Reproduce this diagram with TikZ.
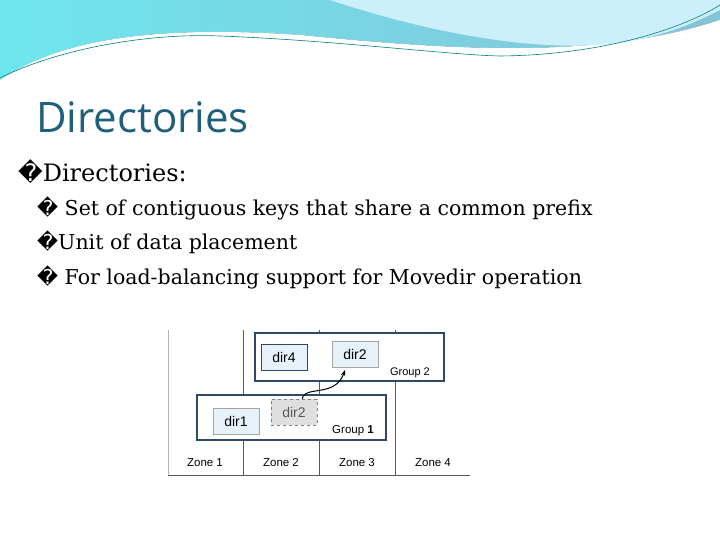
\documentclass[tikz,border=0pt]{standalone}
\usepackage{fontspec}
\setmainfont{DejaVu Serif}
\setsansfont{Open Sans}
\newfontfamily\symfont{DejaVu Sans}
\newfontfamily\zonefont{Liberation Sans}
\usetikzlibrary{positioning, arrows.meta}
\definecolor{titleteal}{HTML}{1F5F7A}
\definecolor{wavedark}{HTML}{86C3D6}
\definecolor{wavelight}{HTML}{6EE6EE}
\definecolor{dirfill}{HTML}{E6F1FA}
\definecolor{groupline}{HTML}{2E4A66}
\tikzset{
  dirbox/.style={draw=gray!70, fill=dirfill, minimum width=46pt, minimum height=26pt, inner sep=0pt, font=\zonefont\fontsize{14}{14}\selectfont},
  movedbox/.style={dirbox, draw=gray, dashed, fill=gray!25, text=gray!70!black},
  groupbox/.style={draw=groupline, line width=1.6pt, fill=white},
  zonelabel/.style={font=\zonefont\fontsize{11.5}{12}\selectfont},
  bulletline/.style={anchor=west, inner sep=0pt, font=\fontsize{20.5}{21}\selectfont}
}
\newcommand{\bul}{{\symfont\char"FFFD}}
\begin{document}
\begin{tikzpicture}[x=1pt, y=-1pt]
\useasboundingbox (0,0) rectangle (720,540);
% header waves
\fill[left color=wavelight, right color=wavedark] (0,0) -- (720,0) -- (720,20)
  .. controls (600,60) and (450,50) .. (300,35)
  .. controls (150,25) and (60,40) .. (0,80) -- cycle;
\fill[white] (0,80) .. controls (60,40) and (150,25) .. (300,35)
  .. controls (450,50) and (600,60) .. (720,20) -- (720,35)
  .. controls (600,60) and (450,55) .. (300,42)
  .. controls (150,35) and (60,50) .. (0,82) -- cycle;
\fill[cyan!20] (330,0) .. controls (420,30) and (520,50) .. (600,45) .. controls (660,40) and (700,20) .. (720,10) -- (720,0) -- cycle;
\draw[teal, line width=0.6pt] (0,78) .. controls (60,48) and (150,33) .. (220,36)
  .. controls (330,40) and (450,55) .. (500,56) .. controls (600,55) and (680,30) .. (720,5);
% title and bullets
\node[anchor=west, inner sep=0pt, text=titleteal, font=\sffamily\fontsize{42}{42}\selectfont] (title) at (36,117) {Directories};
\node[bulletline, font=\fontsize{24}{24}\selectfont] (b0) at (18,172) {\bul Directories:};
\node[bulletline] (b1) at (37,208) {\bul{} Set of contiguous keys that share a common prefix};
\node[bulletline] (b2) at (37,242) {\bul Unit of data placement};
\node[bulletline] (b3) at (37,277) {\bul{} For load-balancing support for Movedir operation};
% zones
\draw[gray!60] (168,330) -- (168,475);
\draw[gray!70!black] (168,475) -- (470,475);
\foreach \zx in {243,319,395}
  \draw[gray!70!black] (\zx,330) -- (\zx,475);
\node[zonelabel] (z1) at (205,463) {Zone 1};
\node[zonelabel] (z2) at (281,463) {Zone 2};
\node[zonelabel] (z3) at (357,463) {Zone 3};
\node[zonelabel] (z4) at (433,463) {Zone 4};
% groups
\draw[groupbox] (255,333) rectangle (444,381);
\draw[groupbox] (197,395) rectangle (386,440);
\node[zonelabel, font=\zonefont\fontsize{11}{11}\selectfont] (g2) at (410,373) {Group 2};
\node[zonelabel] (g1) at (353,431) {Group \textbf{1}};
\node[dirbox, draw=groupline, line width=0.8pt] (dir4) at (284,357) {dir4};
\node[dirbox] (dir2new) at (355,354) {dir2};
\node[dirbox] (dir1) at (236,421) {dir1};
\node[movedbox] (dir2old) at (294,412) {dir2};
\draw[-{Stealth[length=6pt]}, line width=1pt] (dir2old.north east) ++(-15,0)
  .. controls (305,385) and (335,398) .. (345,370);
\end{tikzpicture}
\end{document}
